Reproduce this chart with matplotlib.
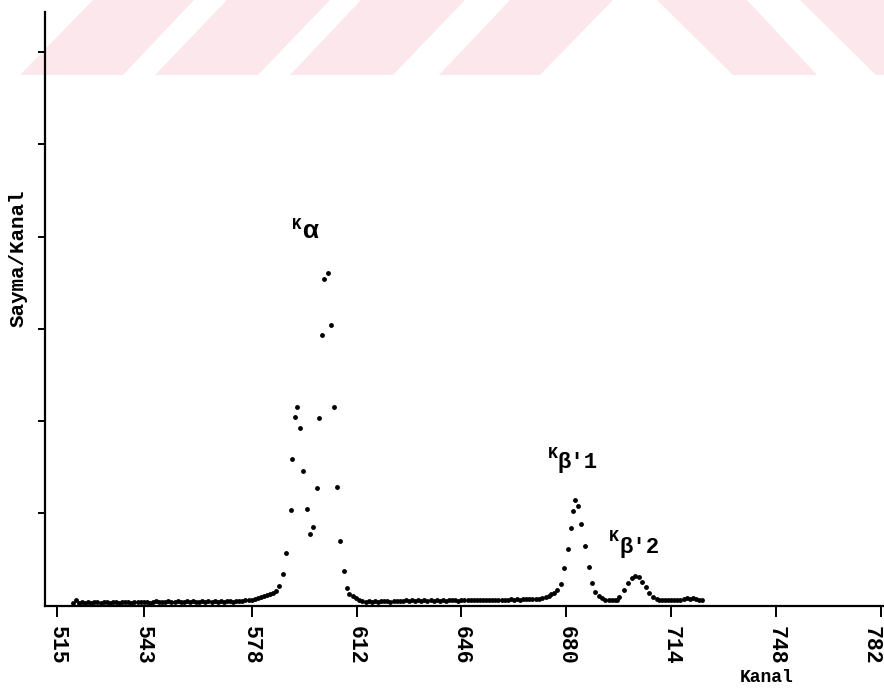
import matplotlib
matplotlib.use('Agg')
import matplotlib.pyplot as plt
from matplotlib.patches import Polygon
from matplotlib.transforms import ScaledTranslation

# ---------------- data ----------------
ch_left = list(range(520, 590))
cnt_left = [2.5, 6, 3, 3.5, 3, 4, 3, 3.5, 4, 3,
            3.5, 4, 3, 4, 3.5, 3, 4, 3.5, 4, 3,
            4, 3.5, 4, 3.5, 4, 3, 4, 4.5, 3.5, 4,
            3.5, 4.5, 4, 3.5, 4.5, 4, 3.5, 4.5, 4, 4.5,
            4, 3.5, 4.5, 4, 4.5, 4, 5, 4, 4.5, 4,
            5, 4.5, 4, 5, 4.5, 5, 5.5, 6, 6.5, 7,
            8, 9, 10.5, 11.5, 12.5, 14, 16, 21.5, 34.5, 57]

ka_ch = [590.6, 591.2, 592.2, 592.7, 593.7, 594.8, 596.1, 597.0, 598.0, 599.1,
         599.9, 600.9, 601.6, 602.6, 603.7, 604.8, 605.8, 606.6, 608.0, 608.9,
         609.7, 611.0, 611.9, 612.9, 613.8]
ka_cnt = [104, 159, 204, 215, 192, 146, 105, 78, 85, 127,
          203, 293, 354, 361, 304, 215, 129, 70, 37, 19,
          13, 10.3, 7.6, 6.0, 4.9]

ch_mid = list(range(615, 670))
cnt_mid = [4, 4.5, 4, 5, 4, 5, 4.5, 5, 4, 5,
           4.5, 5, 4.5, 5.5, 4.5, 5.5, 5, 5.5, 4.5, 5.5,
           5, 6, 5, 5.5, 5, 6, 5, 6, 5.5, 6,
           5, 6, 5.5, 6, 5.5, 6, 5.5, 6, 5.5, 6,
           5.5, 6.5, 6, 6.5, 6, 6.5, 6.5, 7, 6.5, 7,
           6.5, 7, 7, 7.5, 7]

kb_ch = [670.1, 671.1, 672.2, 673.3, 674.4, 675.2, 676.0, 677.1, 678.4, 679.4,
         680.5, 681.4, 682.1, 682.9, 683.9, 684.9, 686.0, 687.3, 688.2, 689.3,
         690.6, 691.7, 692.7, 693.7, 694.7, 695.7, 696.5, 697.1, 698.7, 700.0,
         701.2, 702.3, 703.6, 704.6, 705.7, 706.8, 708.1, 709.5]
kb_cnt = [7.0, 7.5, 8.5, 9.5, 10.6, 12, 13.2, 16.8, 23.3, 40.7,
          61.0, 84.4, 102.5, 114.4, 107.6, 88.4, 64.2, 41.4, 24.1, 15.0,
          10.6, 7.8, 6.5, 6, 6, 6, 6.5, 9.5, 16.8, 24.1,
          30.2, 32.0, 31.2, 25.8, 19.7, 13.9, 9.5, 7.0]

ch_right = list(range(710, 725))
cnt_right = [6, 5.5, 5.5, 6, 5.5, 5.5, 6, 6.5, 7.5, 8, 7.5, 8, 7, 6, 5.5]

xtick_vals = [515, 543, 578, 612, 646, 680, 714, 748, 782]
xtick_labels = ['515', '543', '578', '612', '646', '680', '714', '748', '782']
ytick_vals = [100, 200, 300, 400, 500, 600]

channels = ch_left + ka_ch + ch_mid + kb_ch + ch_right
counts = cnt_left + ka_cnt + cnt_mid + kb_cnt + cnt_right

# ---------------- figure ----------------
W, H = 884, 695
fig = plt.figure(figsize=(W / 100, H / 100), dpi=100)
fig.patch.set_facecolor('white')

# watermark stripes (image pixel coords)
stripes = [
    [(20, 75), (123, 75), (194, 0), (93, 0)],
    [(155, 75), (258, 75), (330, 0), (227, 0)],
    [(290, 75), (393, 75), (465, 0), (361, 0)],
    [(439, 75), (540, 75), (613, 0), (510, 0)],
    [(733, 75), (817, 75), (747, 0), (657, 0)],
    [(876, 75), (884, 75), (884, 0), (800, 0)],
]
for poly in stripes:
    pts = [(x / W, 1 - y / H) for x, y in poly]
    fig.patches.append(Polygon(pts, closed=True, transform=fig.transFigure,
                               facecolor='#fce8ec', edgecolor='none', zorder=-5))

ax_left, ax_right = 45 / W, 1.0
ax_bottom = 1 - 605.5 / H
ax_top = 1 - 12 / H
ax = fig.add_axes([ax_left, ax_bottom, ax_right - ax_left, ax_top - ax_bottom])
ax.set_facecolor('none')

ax.plot(channels, counts, linestyle='none', marker='o', markersize=3.5,
        color='black', markeredgewidth=0)

ax.set_xlim(511, 783)
ax.set_ylim(0, 643.7)

for s in ['top', 'right']:
    ax.spines[s].set_visible(False)
for s in ['left', 'bottom']:
    ax.spines[s].set_linewidth(1.6)
    ax.spines[s].set_color('black')

mono = ['Liberation Mono', 'DejaVu Sans Mono']
ax.set_xticks(xtick_vals)
ax.set_xticklabels(xtick_labels, rotation=-90, fontfamily=mono,
                   fontweight='bold', fontsize=15.5)
ax.set_yticks(ytick_vals)
ax.set_yticklabels([])
ax.tick_params(axis='x', direction='out', length=8, width=1.4, pad=7)
ax.tick_params(axis='y', direction='out', length=5, width=1.4)

# nudge the last tick label so it stays inside the picture
last = ax.get_xticklabels()[-1]
last.set_transform(last.get_transform() + ScaledTranslation(-10 / 100, 0, fig.dpi_scale_trans))

# axis titles
fig.text(767 / W, 1 - 678 / H, 'Kanal', fontfamily=mono, fontweight='bold',
         fontsize=13, ha='center', va='center')
fig.text(18 / W, 1 - 258 / H, 'Sayma/Kanal', fontfamily=mono, fontweight='bold',
         fontsize=15, ha='center', va='center', rotation=90)

# peak labels
ax.text(592.7, 413, 'K', fontfamily=mono, fontweight='bold', fontsize=11.5,
        ha='center', va='center')
ax.text(594.4, 399, 'α', fontfamily=mono, fontweight='bold', fontsize=19,
        ha='left', va='baseline')

ax.text(675.5, 165, 'K', fontfamily=mono, fontweight='bold', fontsize=12,
        ha='center', va='center')
ax.text(677.3, 149, "β'1", fontfamily=mono, fontweight='bold', fontsize=16,
        ha='left', va='baseline')

ax.text(695.5, 75, 'K', fontfamily=mono, fontweight='bold', fontsize=12,
        ha='center', va='center')
ax.text(697.4, 57, "β'2", fontfamily=mono, fontweight='bold', fontsize=16,
        ha='left', va='baseline')

fig.savefig('out.png', dpi=100)
